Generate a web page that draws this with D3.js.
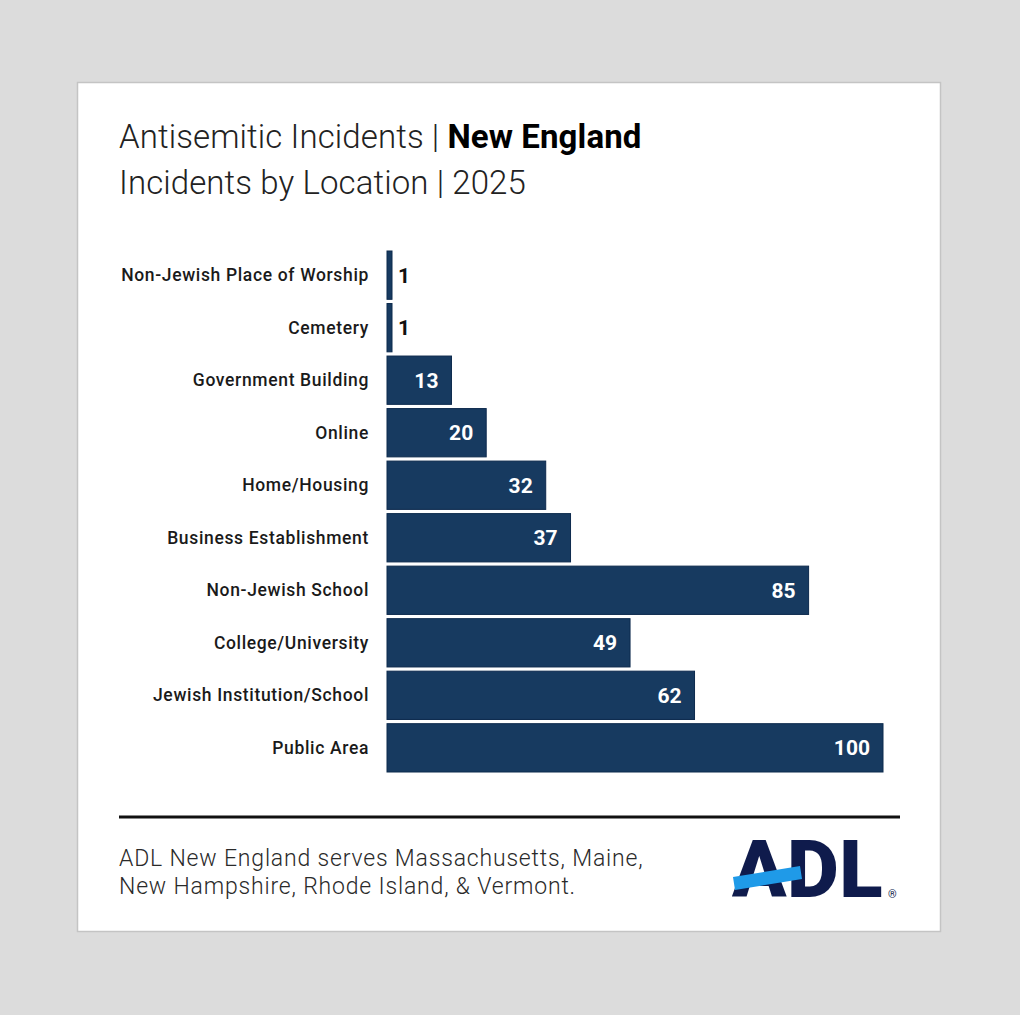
<!DOCTYPE html>
<html><head><meta charset="utf-8">
<script src="https://cdn.jsdelivr.net/npm/d3@7"></script>
<style>
body{margin:0;background:#dcdcdc;font-family:Roboto,"Open Sans",sans-serif;}
</style></head>
<body>
<svg id="chart" width="1020" height="1015"></svg>
<script>
const categories = ["Non-Jewish Place of Worship","Cemetery","Government Building","Online","Home/Housing","Business Establishment","Non-Jewish School","College/University","Jewish Institution/School","Public Area"];
const values = [1,1,13,20,32,37,85,49,62,100];
const titleLine1a = "Antisemitic Incidents | ";
const titleLine1b = "New England";
const titleLine2 = "Incidents by Location | 2025";
const footerLines = ["ADL New England serves Massachusetts, Maine,","New Hampshire, Rhode Island, & Vermont."];

const svg = d3.select("#chart");
svg.append("rect").attr("x",0).attr("y",0).attr("width",1020).attr("height",1015).attr("fill","#dcdcdc");
svg.append("rect").attr("x",77.5).attr("y",82.5).attr("width",863).attr("height",849).attr("fill","#fff").attr("stroke","#c4c4c4").attr("stroke-width",1.5);

const t1 = svg.append("text").attr("x",119).attr("y",148).attr("font-size",33).attr("letter-spacing",0.1).attr("fill","#222");
t1.append("tspan").attr("font-weight",300).text(titleLine1a);
t1.append("tspan").attr("font-weight",700).attr("fill","#000").text(titleLine1b);
svg.append("text").attr("x",119).attr("y",194).attr("font-size",33).attr("letter-spacing",0.1).attr("font-weight",300).attr("fill","#222").text(titleLine2);

const x = d3.scaleLinear().domain([0,100]).range([387,883]);
const y = d3.scaleBand().domain(categories).range([251,772]).paddingInner(0.08).paddingOuter(0.0);

const g = svg.append("g");
g.selectAll("rect.bar").data(values).join("rect").attr("class","bar")
  .attr("x",x(0)).attr("y",(d,i)=>y(categories[i]))
  .attr("width",d=>Math.max(5,x(d)-x(0))).attr("height",y.bandwidth())
  .attr("fill","#173a60").attr("stroke","#0d2a4d").attr("stroke-width",1);

g.selectAll("text.cat").data(categories).join("text").attr("class","cat")
  .attr("x",369).attr("y",d=>y(d)+y.bandwidth()/2).attr("dy","0.35em")
  .attr("text-anchor","end").attr("font-size",17.5).attr("font-weight",500).attr("letter-spacing",0.65).attr("fill","#1a1a1a").text(d=>d);

g.selectAll("text.val").data(values).join("text").attr("class","val")
  .attr("x",d=> d<5 ? x(0)+Math.max(5,x(d)-x(0))+6 : x(d)-13)
  .attr("y",(d,i)=>y(categories[i])+y.bandwidth()/2).attr("dy","0.36em")
  .attr("text-anchor",d=> d<5 ? "start":"end")
  .attr("font-size",21).attr("font-weight",700)
  .attr("fill",d=> d<5 ? "#111":"#fff").text(d=>d);

svg.append("line").attr("x1",119).attr("x2",900).attr("y1",817).attr("y2",817).attr("stroke","#111").attr("stroke-width",3);

svg.selectAll("text.foot").data(footerLines).join("text").attr("class","foot")
  .attr("x",119).attr("y",(d,i)=>866+i*28).attr("font-size",23).attr("font-weight",300).attr("letter-spacing",0.82).attr("fill","#2a2a2a").text(d=>d);

// logo
const logo = svg.append("g");
logo.append("text").attr("x",732).attr("y",897).attr("font-size",80).attr("font-weight",900)
  .attr("letter-spacing",0.5).attr("fill","#0f1b4c").text("ADL");
logo.append("polygon").attr("points","733,877 800,866 802,879 735,890").attr("fill","#1f9ae8");
logo.append("text").attr("x",888).attr("y",898).attr("font-size",11).attr("fill","#0f1b4c").text("®");
</script>
</body></html>
